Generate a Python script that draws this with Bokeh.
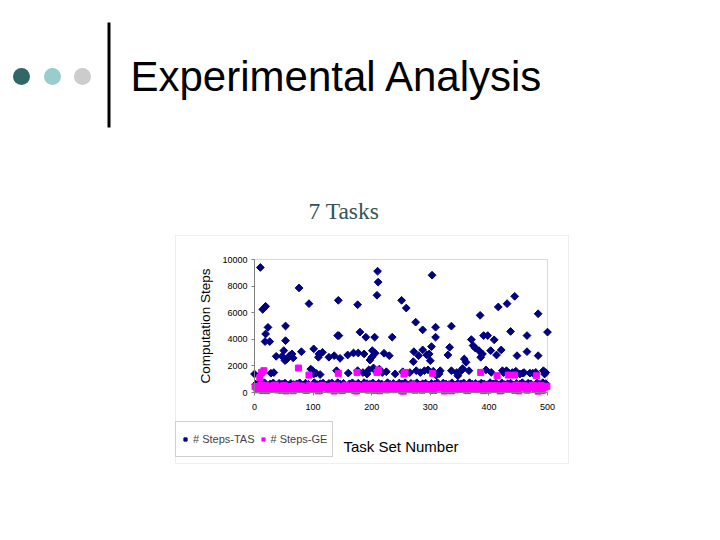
from bokeh.plotting import figure
from bokeh.models import (Range1d, FixedTicker, BoxAnnotation, Legend,
                          LegendItem, ColumnDataSource)
from bokeh.core.properties import value
from bokeh.embed import file_html
from bokeh.resources import INLINE

# ---------------- data ----------------
x_ticks = [0, 100, 200, 300, 400, 500]
y_ticks = [0, 2000, 4000, 6000, 8000, 10000]
series_names = ["# Steps-TAS", "# Steps-GE"]
slide_title = "Experimental Analysis"
chart_title = "7 Tasks"

# dense low band, TAS
tas_band_x = [2, 7, 12, 17, 22, 27, 32, 37, 42, 47, 52, 57, 62, 67, 72, 77, 82, 87, 92, 97,
              102, 107, 112, 117, 122, 127, 132, 137, 142, 147, 152, 157, 162, 167, 172, 177, 182, 187, 192, 197,
              202, 207, 212, 217, 222, 227, 232, 237, 242, 247, 252, 257, 262, 267, 272, 277, 282, 287, 292, 297,
              302, 307, 312, 317, 322, 327, 332, 337, 342, 347, 352, 357, 362, 367, 372, 377, 382, 387, 392, 397,
              402, 407, 412, 417, 422, 427, 432, 437, 442, 447, 452, 457, 462, 467, 472, 477, 482, 487, 492, 497]
tas_band_y = [620, 700, 560, 740, 500, 650, 720, 580, 690, 630, 710, 540, 680, 600, 650, 730, 570, 700, 610, 520,
              740, 600, 660, 710, 550, 680, 720, 580, 740, 620, 690, 500, 650, 730, 590, 700, 560, 740, 670, 620,
              720, 580, 690, 640, 530, 740, 610, 680, 570, 710, 650, 740, 540, 690, 610, 730, 580, 660, 700, 560,
              680, 620, 740, 530, 710, 640, 600, 730, 570, 690, 650, 720, 550, 740, 620, 680, 590, 710, 650, 580,
              740, 640, 700, 540, 720, 600, 660, 710, 560, 680, 620, 740, 580, 700, 650, 520, 720, 610, 740, 670]

# scattered high values, TAS
tas_hi = [(0, 1390), (10, 9400), (14, 6250), (19, 6480), (19, 4400), (18, 3830), (23, 4900), (26, 3830),
          (12, 1400), (28, 1450), (33, 1500), (37, 2720), (47, 2720), (50, 3150), (52, 2400), (53, 5000),
          (53, 3900), (55, 2500), (60, 2770), (64, 2900), (66, 2600), (76, 7860), (80, 3070), (93, 6680),
          (96, 1760), (99, 1640), (101, 1390), (101, 3280), (109, 2650), (110, 2900), (116, 3020), (127, 2650),
          (136, 2770), (143, 6930), (142, 4280), (144, 4280), (146, 2570), (140, 1640), (160, 1460), (159, 2820),
          (169, 2970), (176, 1640), (177, 2970), (176, 6600), (180, 4540), (187, 2900), (190, 4160), (192, 1390),
          (197, 2440), (200, 2650), (201, 3150), (205, 4160), (206, 2950), (210, 9120), (211, 8300), (209, 7310),
          (213, 1760), (221, 2950), (225, 1560), (230, 2770), (235, 4160), (251, 6930), (259, 6350), (253, 1560),
          (272, 3070), (271, 2320), (275, 5290), (280, 2770), (276, 1640), (287, 4710), (287, 3200), (290, 1640),
          (294, 2820), (298, 2900), (302, 3450), (300, 2390), (303, 8820), (309, 4160), (309, 4910), (310, 1310),
          (317, 1640), (330, 2820), (333, 3400), (336, 4990), (336, 1640), (347, 1260), (353, 1640), (358, 2520),
          (361, 2270), (366, 1640), (370, 3980), (373, 3530), (377, 3330), (383, 3150), (385, 5800), (386, 2650),
          (389, 2900), (391, 4280), (398, 4280), (403, 3150), (404, 1510), (409, 3960), (413, 2820), (416, 6430),
          (421, 3200), (423, 1640), (430, 1640), (431, 6680), (437, 4590), (444, 7230), (448, 2770), (453, 1390),
          (458, 1460), (465, 4280), (465, 3070), (470, 1460), (480, 1510), (484, 5920), (484, 2770), (493, 1640),
          (495, 1390), (500, 4540),
          (105, 1450), (112, 1350), (185, 1500), (195, 1700), (203, 1850), (207, 1600), (218, 1500), (240, 1400),
          (265, 1500), (283, 1500), (296, 1700), (305, 1600), (315, 1400), (345, 1500), (355, 1800), (395, 1700),
          (425, 1500), (435, 1450), (440, 1500), (446, 1600), (460, 1500), (475, 1450), (497, 1500)]

# dense low band, GE (two interleaved sets of task numbers)
ge_band_x = [4, 9, 14, 19, 24, 29, 34, 39, 44, 49, 54, 59, 64, 69, 74, 79, 84, 89, 94, 99,
             104, 109, 114, 119, 124, 129, 134, 139, 144, 149, 154, 159, 164, 169, 174, 179, 184, 189, 194, 199,
             204, 209, 214, 219, 224, 229, 234, 239, 244, 249, 254, 259, 264, 269, 274, 279, 284, 289, 294, 299,
             304, 309, 314, 319, 324, 329, 334, 339, 344, 349, 354, 359, 364, 369, 374, 379, 384, 389, 394, 399,
             404, 409, 414, 419, 424, 429, 434, 439, 444, 449, 454, 459, 464, 469, 474, 479, 484, 489, 494, 499]
ge_band_y = [310, 480, 150, 520, 250, 420, 540, 190, 380, 500, 120, 450, 300, 530, 220, 480, 350, 160, 550, 270,
             430, 120, 510, 330, 470, 200, 540, 280, 400, 140, 500, 360, 230, 530, 110, 440, 320, 550, 180, 490,
             260, 520, 130, 410, 540, 300, 460, 210, 510, 370, 100, 480, 290, 550, 170, 420, 520, 240, 380, 500,
             150, 530, 330, 450, 110, 550, 270, 500, 200, 430, 350, 540, 140, 490, 310, 520, 220, 410, 550, 180,
             460, 300, 510, 120, 390, 540, 250, 480, 160, 550, 340, 500, 200, 440, 550, 280, 100, 520, 370, 470]
ge_band2_x = [1, 6, 11, 16, 21, 26, 31, 36, 41, 46, 51, 56, 61, 66, 71, 76, 81, 86, 91, 96,
              101, 106, 111, 116, 121, 126, 131, 136, 141, 146, 151, 156, 161, 166, 171, 176, 181, 186, 191, 196,
              201, 206, 211, 216, 221, 226, 231, 236, 241, 246, 251, 256, 261, 266, 271, 276, 281, 286, 291, 296,
              301, 306, 311, 316, 321, 326, 331, 336, 341, 346, 351, 356, 361, 366, 371, 376, 381, 386, 391, 396,
              401, 406, 411, 416, 421, 426, 431, 436, 441, 446, 451, 456, 461, 466, 471, 476, 481, 486, 491, 496]
ge_band2_y = [450, 200, 530, 330, 140, 490, 260, 550, 380, 170, 520, 240, 410, 130, 560, 300, 470, 190, 390, 520,
              230, 480, 150, 540, 360, 260, 450, 110, 500, 320, 180, 550, 280, 420, 140, 510, 370, 220, 480, 300,
              540, 160, 430, 270, 520, 190, 390, 550, 240, 460, 130, 500, 350, 210, 560, 310, 440, 170, 520, 280,
              400, 150, 490, 340, 550, 230, 470, 120, 380, 530, 260, 450, 180, 510, 330, 550, 210, 420, 140, 490,
              360, 540, 270, 430, 160, 520, 300, 460, 230, 550, 120, 410, 500, 180, 350, 540, 260, 480, 140, 430]

# scattered higher values, GE
ge_hi = [(9, 1130), (12, 1510), (16, 1640), (75, 1840), (93, 1310), (143, 1440), (175, 1510), (209, 1510),
         (212, 1690), (255, 1390), (257, 1510), (304, 1440), (386, 1510), (414, 1260), (433, 1310), (444, 1310),
         (481, 1260)]

tas_x = tas_band_x + [q[0] for q in tas_hi]
tas_y = tas_band_y + [q[1] for q in tas_hi]
ge_x = ge_band_x + ge_band2_x + [q[0] for q in ge_hi]
ge_y = ge_band_y + ge_band2_y + [q[1] for q in ge_hi]

# ---------------- layout (page pixels) ----------------
W, H = 712, 532
PL, PR, PT, PB = 254, 547, 259, 392          # plot area on the page
kx = (x_ticks[-1] - x_ticks[0]) / (PR - PL)  # data units per px
ky = (y_ticks[-1] - y_ticks[0]) / (PB - PT)
x_range = Range1d(x_ticks[0] - PL * kx, x_ticks[-1] + (W - PR) * kx)
y_range = Range1d(y_ticks[0] - (H - PB) * ky, y_ticks[-1] + PT * ky)

p = figure(width=W, height=H, output_backend="svg", toolbar_location=None,
           x_range=x_range, y_range=y_range,
           min_border=0, min_border_left=0, min_border_right=0,
           min_border_top=0, min_border_bottom=0)
p.extra_x_ranges = {"px": Range1d(0, W)}
p.extra_y_ranges = {"py": Range1d(H, 0)}
p.background_fill_color = "white"
p.border_fill_color = "white"
p.outline_line_color = None
p.grid.visible = False

FONT = "Liberation Sans"
for ax in (p.xaxis[0], p.yaxis[0]):
    ax.axis_line_color = "#808080"
    ax.major_tick_line_color = "#808080"
    ax.major_tick_in = 0
    ax.major_tick_out = 3
    ax.minor_tick_line_color = None
    ax.major_label_text_font = FONT
    ax.major_label_text_font_size = "9px"
    ax.major_label_text_color = "black"
    ax.axis_label_text_font = FONT
    ax.axis_label_text_font_style = "normal"
    ax.axis_label_text_color = "black"

p.xaxis.fixed_location = y_ticks[0]
p.yaxis.fixed_location = x_ticks[0]
p.xaxis.bounds = (x_ticks[0], x_ticks[-1])
p.yaxis.bounds = (y_ticks[0], y_ticks[-1])
p.xaxis.ticker = FixedTicker(ticks=x_ticks)
p.yaxis.ticker = FixedTicker(ticks=y_ticks)
p.xaxis.major_label_standoff = 8
p.yaxis.major_label_standoff = 4
p.yaxis.axis_label = "Computation Steps"
p.yaxis.axis_label_text_font_size = "13.5px"
p.yaxis.axis_label_standoff = 6
p.xaxis.axis_label = "Task Set Number"
p.xaxis.axis_label_text_font_size = "15px"
p.xaxis.axis_label_standoff = 25

# outer chart box and plot-area border
p.add_layout(BoxAnnotation(left=175, right=568, top=235, bottom=463,
                           x_range_name="px", y_range_name="py",
                           fill_color=None, line_color="#c8c8c8", line_width=1, level="underlay"))
p.add_layout(BoxAnnotation(left=x_ticks[0], right=x_ticks[-1], bottom=y_ticks[0], top=y_ticks[-1],
                           fill_color=None, line_color="#808080", line_width=1, level="underlay"))

src_tas = ColumnDataSource(dict(x=tas_x, y=tas_y))
src_ge = ColumnDataSource(dict(x=ge_x, y=ge_y))
r_tas = p.scatter("x", "y", source=src_tas, marker="square", angle=0.785398, size=5.5,
                  fill_color="#000080", line_color="#000080")
r_ge = p.scatter("x", "y", source=src_ge, marker="square", size=6,
                 fill_color="#FF00FF", line_color="#FF00FF")

legend = Legend(items=[LegendItem(label=series_names[0], renderers=[r_tas]),
                       LegendItem(label=series_names[1], renderers=[r_ge])],
                location=(175, H - 457), orientation="horizontal",
                border_line_color="#a0a0a0", background_fill_color="white",
                label_text_font=FONT, label_text_font_size="11px",
                padding=5, spacing=4, glyph_width=8, glyph_height=8, label_height=24,
                label_standoff=4, margin=0)
p.add_layout(legend, "center")

# slide decorations (page-pixel ranges)
p.text(x=[130], y=[76], text=[slide_title], x_range_name="px", y_range_name="py",
       text_font=value(FONT), text_font_size="42px", text_color="black",
       text_baseline="alphabetic")
p.text(x=[308], y=[210], text=[chart_title], x_range_name="px", y_range_name="py",
       text_font=value("Liberation Serif"), text_font_size="23.5px", text_color="#335555",
       text_baseline="alphabetic")
p.quad(left=[107], right=[110], top=[22], bottom=[127], x_range_name="px", y_range_name="py",
       fill_color="black", line_color=None)
p.circle(x=[21, 52, 82], y=[76, 76, 76], radius=8.5, x_range_name="px", y_range_name="py",
         fill_color=["#336666", "#99cccc", "#cccccc"], line_color=None)

open("out.html", "w").write(file_html(p, INLINE))
